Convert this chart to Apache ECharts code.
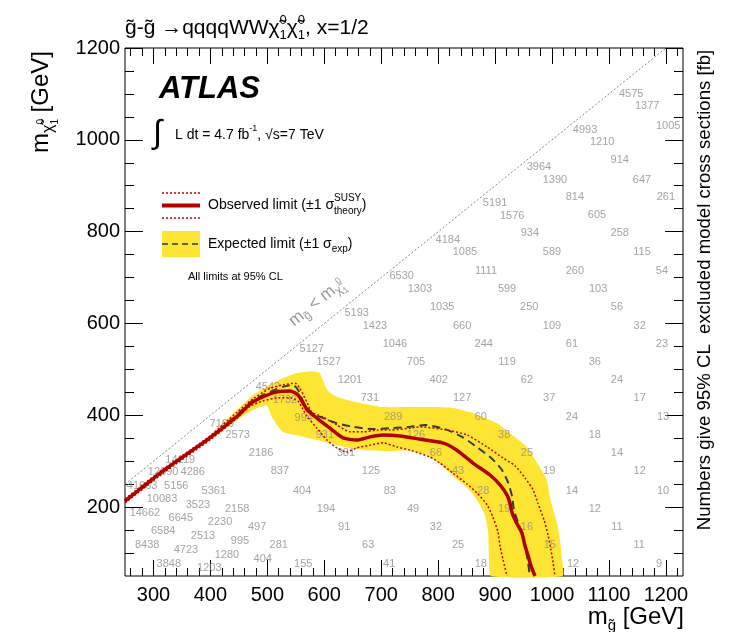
<!DOCTYPE html>
<html><head><meta charset="utf-8">
<script src="https://cdn.jsdelivr.net/npm/echarts@6/dist/echarts.min.js"></script>
<style>html,body{margin:0;padding:0;background:#fff}#c{width:738px;height:632px}</style>
</head><body><div id="c"></div>
<script>
// ---------------- data ----------------
const xMajor = [300,400,500,600,700,800,900,1000,1100,1200];
const yMajor = [200,400,600,800,1000,1200];

const diagX = [250,1200];
const diagY = [250,1200];

const obsX = [250,317,399,447,470,492,517,540,554,570,587,610,633,657,680,703,733,768,808,833,861,891,909,921,926,930,938,947,952,958,963,970];
const obsY = [213,279,351,398,425,440,451,453,444,412,394,372,351,346,353,357,355,348,340,324,296,270,248,226,209,187,165,144,118,94,72,50];

const expX = [250,317,399,447,475,505,527,545,554,566,578,598,622,650,686,715,751,777,812,842,870,895,912,923,930,933,940,949,954,958,961];
const expY = [213,279,351,401,433,451,462,466,455,422,405,394,383,375,370,372,375,379,370,353,329,305,281,253,222,194,168,135,107,78,50];

const obsUpX = [250,317,399,447,475,505,527,549,557,570,578,598,622,645,668,693,715,751,768,816,851,886,914,935,953,967,975,986,993,998,1002,1005];
const obsUpY = [218,283,355,407,436,459,466,470,459,427,407,396,379,364,364,368,368,372,375,368,357,331,307,290,263,237,209,172,139,107,78,50];

const obsLoX = [250,317,399,447,470,492,517,540,554,563,571,587,605,622,640,657,680,703,728,751,786,803,826,851,868,886,896,905,909,914,921];
const obsLoY = [209,274,346,394,420,431,438,438,431,412,396,372,346,329,320,329,335,340,331,324,309,296,274,250,231,205,179,146,113,85,50];

const bandUpX = [399,447,475,517,552,580,592,605,622,663,703,751,791,826,861,903,926,956,974,991,996,1002,1009,1014,1017,1019];
const bandUpY = [355,412,444,475,492,496,492,455,440,427,418,418,418,416,405,383,361,331,296,259,222,194,165,128,91,50];
const bandLoX = [399,447,475,499,508,527,557,587,615,645,675,715,745,780,803,826,851,868,882,888,889,893];
const bandLoY = [346,390,412,422,396,364,355,346,337,329,324,322,324,314,294,268,242,216,183,144,100,50];

const labelText = ['4575','1377','1005','4993','1210','914','3964','1390','647','814','261','5191','1576','605','934','258','4184','1085','589','115','6530','1111','260','54','1303','599','103','5193','1035','250','56','1423','660','109','32','1046','244','61','23','5127','1527','705','119','36','1201','402','62','24','4542','1732','731','127','37','17','289','60','24','13','7169','994','2573','931','126','38','18','381','66','25','14','2186','14119','12690','4286','837','125','43','19','12','41663','5156','5361','404','83','28','14','10','10083','3523','2158','194','49','19','12','14662','6645','2230','497','91','32','16','11','6584','2513','995','8438','281','63','25','15','11','4723','1280','404','3848','1203','155','41','18','12','9'];
const labelX = [1139,1167,1204,1058,1088,1119,977,1005,1158,1040,1200,900,930,1079,961,1119,817,847,1000,1158,736,884,1040,1193,768,921,1081,657,807,960,1114,689,842,1000,1154,724,880,1035,1193,578,608,761,921,1075,645,801,956,1114,501,531,680,842,995,1154,721,875,1035,1195,420,564,448,601,761,916,1075,638,796,956,1114,489,347,317,369,522,682,835,995,1154,280,340,406,561,715,879,1035,1195,315,378,447,603,756,916,1075,285,348,417,482,635,796,956,1114,317,387,452,289,520,677,835,996,1153,357,429,492,327,398,563,714,875,1037,1188];
const labelY = [1100,1074,1030,1021,995,956,941,912,912,875,875,862,834,836,797,797,782,756,756,756,703,714,714,714,675,675,675,623,636,636,636,594,594,594,594,555,555,555,555,544,516,516,516,516,477,477,477,477,462,433,438,438,438,438,396,396,396,396,381,394,357,357,357,357,357,318,318,318,318,318,303,277,277,279,279,279,279,279,246,246,235,235,235,235,235,235,218,205,196,196,196,196,196,187,176,168,157,157,157,157,157,148,137,126,118,118,118,118,118,118,107,96,87,76,67,76,76,76,76,76];

// ---------------- helpers ----------------
const X_MIN = 250, X_MAX = 1230, Y_MIN = 50, Y_MAX = 1200;
const xMinor = [], yMinor = [];
for (let v = 260; v < X_MAX; v += 20) if (v % 100 !== 0) xMinor.push(v);
for (let v = 100; v < Y_MAX; v += 50) if (v % 200 !== 0) yMinor.push(v);

const FONT = "'Liberation Sans', Arial, Helvetica, sans-serif";
const zip = (a, b) => a.map((v, i) => [v, b[i]]);
const mctx = document.createElement('canvas').getContext('2d');
function tw(t, s, weight, style) {
  mctx.font = (style || 'normal') + ' ' + (weight || 'normal') + ' ' + s + 'px ' + FONT;
  return mctx.measureText(t).width;
}
function txt(t, x, y, s, o) {
  o = o || {};
  return { type: 'text', x: x, y: y, silent: true, z: 100,
    style: { text: t, fontSize: s, fontFamily: FONT, fontWeight: o.weight || 'normal',
      fontStyle: o.style || 'normal', fill: o.fill || '#000', textAlign: o.align || 'left',
      textVerticalAlign: 'middle', verticalAlign: 'middle' } };
}
function layout(parts, x0, y0, fill) {
  let x = x0; const els = [];
  parts.forEach(p => {
    if (p.stack) {
      let mw = 0;
      p.stack.forEach(q => { els.push(txt(q.t, x, y0 + q.dy, q.s, { fill: fill })); mw = Math.max(mw, tw(q.t, q.s)); });
      x += mw;
    } else {
      els.push(txt(p.t, x, y0 + (p.dy || 0), p.s, { fill: fill, weight: p.weight, style: p.style }));
      x += tw(p.t, p.s, p.weight, p.style);
    }
  });
  els.width = x - x0;
  return els;
}
function width(parts) { return layout(parts, 0, 0).width; }

// ---------------- axes ----------------
const plain = v => String(v);
function xAx(pos, ticks, len, lab) {
  return { type: 'value', min: X_MIN, max: X_MAX, position: pos,
    axisLine: { show: false }, splitLine: { show: false }, minorTick: { show: false },
    axisTick: { show: true, inside: true, length: len, customValues: ticks, lineStyle: { color: '#000', width: 1 } },
    axisLabel: lab ? { show: true, customValues: ticks, formatter: plain, fontSize: 20, color: '#000', fontFamily: FONT, margin: 9 } : { show: false } };
}
function yAx(pos, ticks, len, lab) {
  return { type: 'value', min: Y_MIN, max: Y_MAX, position: pos,
    axisLine: { show: false }, splitLine: { show: false }, minorTick: { show: false },
    axisTick: { show: true, inside: true, length: len, customValues: ticks, lineStyle: { color: '#000', width: 1 } },
    axisLabel: lab ? { show: true, customValues: ticks, formatter: plain, fontSize: 20, color: '#000', fontFamily: FONT, margin: 5 } : { show: false } };
}

// ---------------- graphics (texts / legend) ----------------
const G = [];
// title
const sup0 = { stack: [{ t: '0', s: 13, dy: -8 }, { t: '1', s: 13, dy: 7 }] };
G.push(...layout([{ t: 'g\u0303-g\u0303 \u2192qqqqWW', s: 21 }, { t: '\u03C7\u0303', s: 21 }, sup0,
  { t: '\u03C7\u0303', s: 21 }, sup0, { t: ', x=1/2', s: 21 }], 125, 28));
// ATLAS
G.push(txt('ATLAS', 159, 89, 31, { weight: 'bold', style: 'italic' }));
// luminosity
G.push(txt('\u222B', 153, 134, 33));
G.push(...layout([{ t: 'L dt = 4.7 fb', s: 14 }, { t: '-1', s: 9, dy: -6 }, { t: ', \u221As=7 TeV', s: 14 }], 175, 135));
// legend
G.push({ type: 'line', shape: { x1: 162, y1: 193, x2: 200, y2: 193 }, style: { stroke: '#cc0000', lineWidth: 1.5, lineDash: [2, 2] }, z: 100 });
G.push({ type: 'line', shape: { x1: 162, y1: 205.5, x2: 200, y2: 205.5 }, style: { stroke: '#b00000', lineWidth: 4 }, z: 100 });
G.push({ type: 'line', shape: { x1: 162, y1: 218, x2: 200, y2: 218 }, style: { stroke: '#cc0000', lineWidth: 1.5, lineDash: [2, 2] }, z: 100 });
G.push(...layout([{ t: 'Observed limit (\u00B11 \u03C3', s: 14 },
  { stack: [{ t: 'SUSY', s: 10, dy: -7 }, { t: 'theory', s: 10, dy: 6 }] }, { t: ')', s: 14 }], 208, 205));
G.push({ type: 'rect', shape: { x: 162, y: 231, width: 38, height: 26 }, style: { fill: '#ffe533' }, z: 99 });
G.push({ type: 'line', shape: { x1: 162, y1: 244, x2: 200, y2: 244 }, style: { stroke: '#2e3e3e', lineWidth: 1.5, lineDash: [6, 4] }, z: 100 });
G.push(...layout([{ t: 'Expected limit (\u00B11 \u03C3', s: 14 }, { t: 'exp', s: 10, dy: 5 }, { t: ')', s: 14 }], 208, 244));
G.push(txt('All limits at 95% CL', 188, 277, 11));
// diagonal label
G.push({ type: 'group', x: 291, y: 323, rotation: Math.atan2(45.91, 56.94), silent: true,
  children: layout([{ t: 'm', s: 17 }, { t: 'g\u0303', s: 12, dy: 5 }, { t: ' < m', s: 17 }, { t: '\u03C7\u0303', s: 12, dy: 5 },
    { stack: [{ t: '0', s: 9, dy: -3 }, { t: '1', s: 9, dy: 9 }] }], 0, 0, '#999') });
// y title
G.push({ type: 'group', x: 41, y: 153, rotation: Math.PI / 2, silent: true,
  children: layout([{ t: 'm', s: 24 }, { t: '\u03C7\u0303', s: 16, dy: 8 }, { stack: [{ t: '0', s: 10, dy: 0 }, { t: '1', s: 10, dy: 14 }] },
    { t: ' [GeV]', s: 24 }], 0, 0) });
// x title
const xt = [{ t: 'm', s: 24 }, { t: 'g\u0303', s: 15, dy: 9 }, { t: ' [GeV]', s: 24 }];
G.push(...layout(xt, 684 - width(xt), 617));
// right title
G.push({ type: 'group', x: 705, y: 290, rotation: Math.PI / 2, silent: true,
  children: [txt('Numbers give 95% CL  excluded model cross sections [fb]', 0, 0, 18.6, { align: 'center' })] });

// ---------------- chart ----------------
const chart = echarts.init(document.getElementById('c'), null, { renderer: 'canvas' });
const bandPts = zip(bandUpX, bandUpY).concat(zip(bandLoX, bandLoY).reverse());
const labels = labelX.map((x, i) => [x, labelY[i], labelText[i]]);

chart.setOption({
  animation: false,
  backgroundColor: '#fff',
  grid: { left: 125, right: 55, top: 48, bottom: 56, show: true, borderColor: '#000', borderWidth: 1, backgroundColor: 'transparent' },
  xAxis: [xAx('bottom', xMajor, 16, true), xAx('bottom', xMinor, 8, false), xAx('top', xMajor, 16, false), xAx('top', xMinor, 8, false)],
  yAxis: [yAx('left', yMajor, 18, true), yAx('left', yMinor, 9, false), yAx('right', yMajor, 18, false), yAx('right', yMinor, 9, false)],
  graphic: { elements: G },
  series: [
    { type: 'custom', coordinateSystem: 'cartesian2d', xAxisIndex: 0, yAxisIndex: 0, data: [[600, 300]], silent: true, z: 1,
      renderItem: function (params, api) {
        return { type: 'polygon', shape: { points: bandPts.map(p => api.coord(p)), smooth: 0.15 }, style: { fill: '#ffe533' } };
      } },
    { type: 'line', data: zip(diagX, diagY), symbol: 'none', silent: true, z: 2, lineStyle: { color: '#888', width: 1, type: [2, 2] } },
    { type: 'scatter', data: labels, symbolSize: 0.1, silent: true, z: 3, itemStyle: { color: 'rgba(0,0,0,0)' },
      label: { show: true, position: 'inside', formatter: p => p.value[2], color: '#8c8c8c', fontSize: 11, fontFamily: FONT } },
    { type: 'line', data: zip(expX, expY), symbol: 'none', smooth: 0.2, silent: true, z: 4, lineStyle: { color: '#2e3e3e', width: 2, type: [8, 5] } },
    { type: 'line', data: zip(obsUpX, obsUpY), symbol: 'none', smooth: 0.2, silent: true, z: 5, lineStyle: { color: '#cc0000', width: 1.5, type: [2, 2] } },
    { type: 'line', data: zip(obsLoX, obsLoY), symbol: 'none', smooth: 0.2, silent: true, z: 5, lineStyle: { color: '#cc0000', width: 1.5, type: [2, 2] } },
    { type: 'line', data: zip(obsX, obsY), symbol: 'none', smooth: 0.2, silent: true, z: 6, lineStyle: { color: '#b00000', width: 3.5 } }
  ]
});
</script></body></html>
